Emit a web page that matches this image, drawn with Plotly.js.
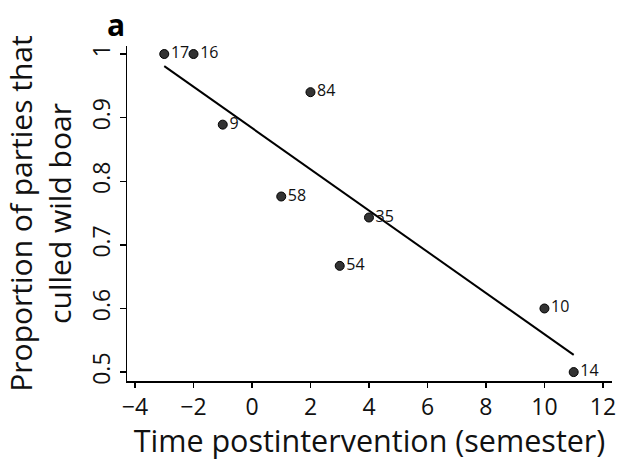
<!DOCTYPE html>
<html>
<head>
<meta charset="utf-8">
<script src="https://cdn.plot.ly/plotly-3.0.1.min.js"></script>
<style>html,body{margin:0;padding:0;background:#fff;}#chart{width:620px;height:461px;}</style>
</head>
<body>
<div id="chart"></div>
<script>
var timeX = [-3, -2, -1, 1, 2, 3, 4, 10, 11];
var proportionY = [1.0, 1.0, 0.889, 0.776, 0.94, 0.667, 0.743, 0.6, 0.5];
var partyCounts = ['17', '16', '9', '58', '84', '54', '35', '10', '14'];
var fitX = [-3, 11];
var fitY = [0.981, 0.527];
var xTicks = [-4, -2, 0, 2, 4, 6, 8, 10, 12];
var xTickText = ['\u22124', '\u22122', '0', '2', '4', '6', '8', '10', '12'];
var yTicks = [0.5, 0.6, 0.7, 0.8, 0.9, 1];
var yTickText = ['0.5', '0.6', '0.7', '0.8', '0.9', '1'];

var FONT = 'Open Sans, sans-serif';

var traces = [
  {
    x: fitX, y: fitY, type: 'scatter', mode: 'lines',
    line: {color: '#000', width: 2}, hoverinfo: 'skip', showlegend: false
  },
  {
    x: timeX, y: proportionY, type: 'scatter', mode: 'markers+text',
    text: partyCounts, textposition: 'middle right',
    textfont: {family: FONT, size: 16, color: '#111'},
    marker: {size: 9, color: '#333', line: {color: '#000', width: 1}},
    showlegend: false, cliponaxis: false
  }
];

var layout = {
  width: 620, height: 461,
  margin: {l: 127, r: 8, t: 46, b: 80},
  paper_bgcolor: '#fff', plot_bgcolor: '#fff',
  font: {family: FONT, color: '#111'},
  showlegend: false,
  xaxis: {
    range: [-4.274, 12.31], tickvals: xTicks, ticktext: xTickText,
    showgrid: false, zeroline: false, showline: true, linecolor: '#000', linewidth: 1.5,
    ticks: 'outside', ticklen: 5, tickwidth: 1.5, tickcolor: '#000',
    tickfont: {family: FONT, size: 23, color: '#111'},
    title: {text: 'Time postintervention (semester)', font: {family: FONT, size: 30.5, color: '#111'}, standoff: 2},
    automargin: false
  },
  yaxis: {
    range: [0.486, 1.0126], tickvals: yTicks, ticktext: yTickText, tickangle: -90,
    showgrid: false, zeroline: false, showline: true, linecolor: '#000', linewidth: 1.5,
    ticks: 'outside', ticklen: 6, tickwidth: 1.5, tickcolor: '#000',
    tickfont: {family: FONT, size: 23, color: '#111'},
    title: {text: 'Proportion of parties that<br>culled wild boar', font: {family: FONT, size: 30, color: '#111'}, standoff: 6},
    automargin: false
  },
  annotations: [
    {text: '<b>a</b>', xref: 'paper', yref: 'paper', x: -0.0227, y: 1.064,
     xanchor: 'center', yanchor: 'middle', showarrow: false,
     font: {family: FONT, size: 30, color: '#000'}}
  ]
};

Plotly.newPlot('chart', traces, layout, {displayModeBar: false, staticPlot: true});
</script>
</body>
</html>
